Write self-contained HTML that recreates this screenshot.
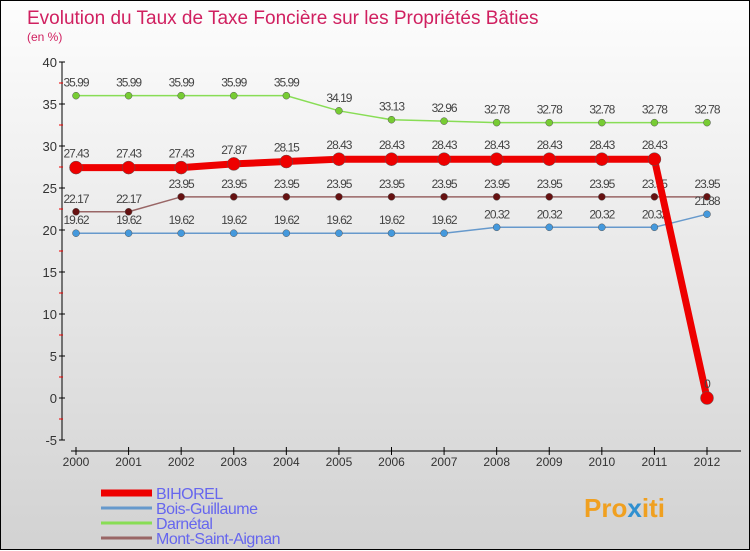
<!DOCTYPE html>
<html><head><meta charset="utf-8"><style>
body{margin:0;}
#c{width:748px;height:548px;border:1px solid #000;background:linear-gradient(#fdfdfd,#d2d2d2);position:relative;font-family:"Liberation Sans",sans-serif;}
svg{position:absolute;left:0;top:0;}
</style></head><body>
<div id="c">
<svg id="s" width="750" height="550">
<text x="26" y="23" font-size="19" fill="#d02060">Evolution du Taux de Taxe Foncière sur les Propriétés Bâties</text>
<text x="26" y="40" font-size="12" fill="#d02060">(en %)</text>
<text x="583" y="516" font-size="26" font-weight="bold" fill="#f0a020">Pro<tspan fill="#3090d0">x</tspan>iti</text>
</svg>
</div>
<script>
const years=[2000,2001,2002,2003,2004,2005,2006,2007,2008,2009,2010,2011,2012];
const bihorel=[27.43,27.43,27.43,27.87,28.15,28.43,28.43,28.43,28.43,28.43,28.43,28.43,0];
const boisGuillaume=[19.62,19.62,19.62,19.62,19.62,19.62,19.62,19.62,20.32,20.32,20.32,20.32,21.88];
const darnetal=[35.99,35.99,35.99,35.99,35.99,34.19,33.13,32.96,32.78,32.78,32.78,32.78,32.78];
const montSaintAignan=[22.17,22.17,23.95,23.95,23.95,23.95,23.95,23.95,23.95,23.95,23.95,23.95,23.95];
const yTicks=[-5,0,5,10,15,20,25,30,35,40];
const NS="http://www.w3.org/2000/svg";
const s=document.getElementById('s');
function X(i){return 75+i*(706-75)/(years.length-1);}
function Y(v){return 397-v*(42/5);}
function el(t,a,p){const e=document.createElementNS(NS,t);for(const k in a)e.setAttribute(k,a[k]);(p||s).appendChild(e);return e;}
const ax=el('line',{x1:61,y1:61,x2:61,y2:439,stroke:'#000'});


const xa=el('line',{x1:70,y1:450,x2:740,y2:450,stroke:'#000'});


yTicks.forEach((v,k)=>{
 el('line',{x1:58,y1:Y(v),x2:64,y2:Y(v),stroke:'#000'});
 if(k<yTicks.length-1) el('line',{x1:58,y1:Y(v+2.5),x2:62,y2:Y(v+2.5),stroke:'#e00'});
 const t=el('text',{x:56,y:Y(v)+5,'text-anchor':'end','font-size':13,fill:'#333'});
 t.textContent=v;
 
 
});
years.forEach((y,i)=>{
 el('line',{x1:X(i),y1:446,x2:X(i),y2:454,stroke:'#000'});
 const t=el('text',{x:X(i),y:465,'text-anchor':'middle','font-size':12,fill:'#333'});
 t.textContent=y;
 
 
});
function series(name,data,color,w,r,dot,labOff){
 const g=el('g',{});
 
 
 el('polyline',{points:data.map((v,i)=>X(i)+','+Y(v)).join(' '),fill:'none',stroke:color,'stroke-width':w},g);
 data.forEach((v,i)=>{
  const c=el('circle',{cx:X(i),cy:Y(v),r:r,fill:dot,stroke:'#555','stroke-width':0.5},g);
  
  
  const t=el('text',{x:X(i),y:Y(v)+labOff,'text-anchor':'middle','font-size':12,fill:'#444','letter-spacing':'-1'},g);
  t.textContent=v;
  
  
 });
}
series('darnetal',darnetal,'#88dd55',1.5,3.5,'#77cc33',-9);
series('mont-saint-aignan',montSaintAignan,'#996666',1.5,3.5,'#661111',-9);
series('bois-guillaume',boisGuillaume,'#6699cc',1.5,3.5,'#4499dd',-9);
series('bihorel',bihorel,'#ee0000',7,6.5,'#ee0000',-10);
const leg=[['BIHOREL','#ee0000',7],['Bois-Guillaume','#6699cc',3],['Darnétal','#88dd55',3],['Mont-Saint-Aignan','#996666',3]];
leg.forEach((l,i)=>{
 const y=492+i*15;
 const g=el('g',{});
 
 
 el('line',{x1:100,y1:y,x2:151,y2:y,stroke:l[1],'stroke-width':l[2]},g);
 const t=el('text',{x:155,y:y+6,'font-size':16,fill:'#6666ee','letter-spacing':'-0.5'},g);
 t.textContent=l[0];
});
</script>
</body></html>
